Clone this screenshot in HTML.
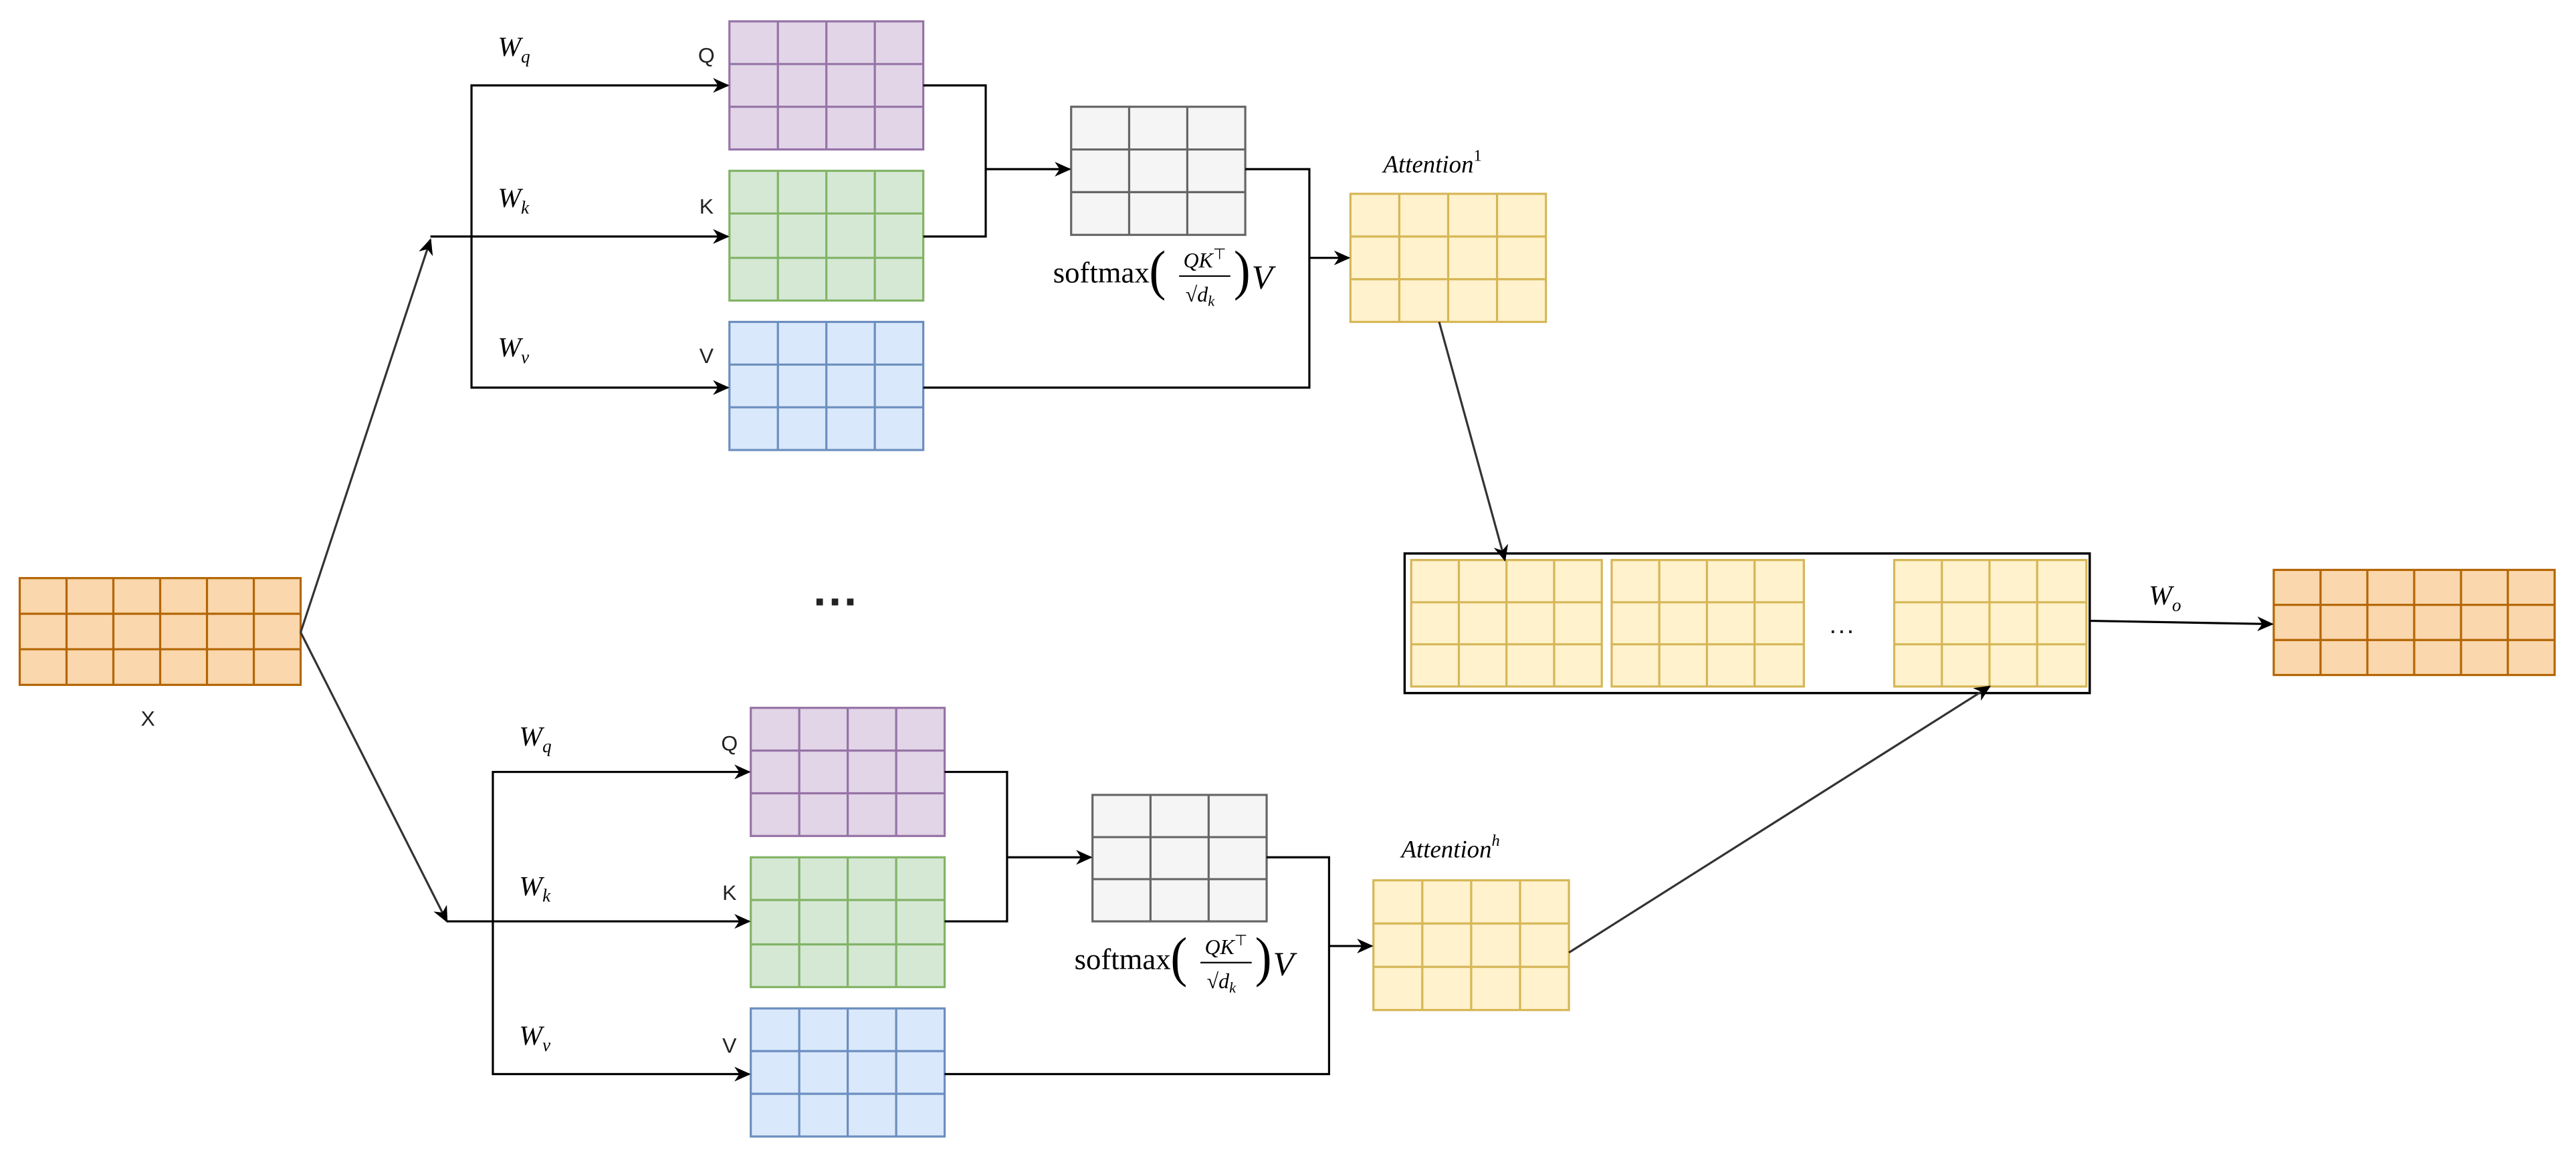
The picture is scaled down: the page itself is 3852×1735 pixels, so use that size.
<!DOCTYPE html>
<html><head><meta charset="utf-8"><style>html,body{margin:0;padding:0;background:#fff}svg{display:block}</style></head><body>
<svg width="3852" height="1735" viewBox="0 0 1568 706.3" preserveAspectRatio="none" xmlns="http://www.w3.org/2000/svg">
<defs>
<marker id="a" markerWidth="10" markerHeight="10" refX="9" refY="5" orient="auto" markerUnits="userSpaceOnUse"><path d="M0,0.5 L10,5 L0,9.5 L3,5 Z" fill="#000"/></marker>
</defs>
<rect width="1568" height="706.3" fill="#fff"/>
<g stroke-width="1.3">
<g fill="#fad7ac" stroke="#b46504"><rect x="12" y="352" width="171" height="65"/><path d="M40.5 352V417M69 352V417M97.5 352V417M126 352V417M154.5 352V417M12 373.7H183M12 395.3H183" fill="none"/></g>
<g fill="#e1d5e7" stroke="#9673a6"><rect x="444" y="13" width="118" height="78"/><path d="M473.5 13V91M503 13V91M532.5 13V91M444 39H562M444 65H562" fill="none"/></g>
<g fill="#d5e8d4" stroke="#82b366"><rect x="444" y="104" width="118" height="79"/><path d="M473.5 104V183M503 104V183M532.5 104V183M444 130H562M444 157H562" fill="none"/></g>
<g fill="#dae8fc" stroke="#6c8ebf"><rect x="444" y="196" width="118" height="78"/><path d="M473.5 196V274M503 196V274M532.5 196V274M444 222H562M444 248H562" fill="none"/></g>
<g fill="#f5f5f5" stroke="#666"><rect x="652" y="65" width="106" height="78"/><path d="M687.3 65V143M722.7 65V143M652 91H758M652 117H758" fill="none"/></g>
<g fill="#fff2cc" stroke="#d6b656"><rect x="822" y="118" width="119" height="78"/><path d="M851.75 118V196M881.5 118V196M911.25 118V196M822 144H941M822 170H941" fill="none"/></g>
<g fill="#e1d5e7" stroke="#9673a6"><rect x="457" y="431" width="118" height="78"/><path d="M486.5 431V509M516 431V509M545.5 431V509M457 457H575M457 483H575" fill="none"/></g>
<g fill="#d5e8d4" stroke="#82b366"><rect x="457" y="522" width="118" height="79"/><path d="M486.5 522V601M516 522V601M545.5 522V601M457 548H575M457 575H575" fill="none"/></g>
<g fill="#dae8fc" stroke="#6c8ebf"><rect x="457" y="614" width="118" height="78"/><path d="M486.5 614V692M516 614V692M545.5 614V692M457 640H575M457 666H575" fill="none"/></g>
<g fill="#f5f5f5" stroke="#666"><rect x="665" y="484" width="106" height="77"/><path d="M700.3 484V561M735.7 484V561M665 509.7H771M665 535.3H771" fill="none"/></g>
<g fill="#fff2cc" stroke="#d6b656"><rect x="836" y="536" width="119" height="79"/><path d="M865.75 536V615M895.5 536V615M925.25 536V615M836 562.3H955M836 588.7H955" fill="none"/></g>
<rect x="855" y="337" width="417" height="85" fill="#fff" stroke="#000" stroke-width="1.4"/>
<g fill="#fff2cc" stroke="#d6b656">
<rect x="859" y="341" width="116" height="77"/><path d="M888 341V418M917 341V418M946 341V418M859 366.7H975M859 392.3H975" fill="none"/>
<rect x="981" y="341" width="117" height="77"/><path d="M1010 341V418M1039 341V418M1068 341V418M981 366.7H1098M981 392.3H1098" fill="none"/>
<rect x="1153" y="341" width="117" height="77"/><path d="M1182 341V418M1211 341V418M1240 341V418M1153 366.7H1270M1153 392.3H1270" fill="none"/>
</g>
<g fill="#fad7ac" stroke="#b46504"><rect x="1384" y="347" width="171" height="64"/><path d="M1412.5 347V411M1441 347V411M1469.5 347V411M1498 347V411M1526.5 347V411M1384 368.3H1555M1384 389.7H1555" fill="none"/></g>
</g>
<g fill="none" stroke="#000" stroke-width="1.3">
<path d="M183 385L262 146" stroke="#333" marker-end="url(#a)"/>
<path d="M183 385L272 561" stroke="#333" marker-end="url(#a)"/>
<path d="M262 144H443" marker-end="url(#a)"/>
<path d="M287 144V52H443" marker-end="url(#a)"/>
<path d="M287 144V236H443" marker-end="url(#a)"/>
<path d="M562 52H600V144H562"/>
<path d="M600 103H651" marker-end="url(#a)"/>
<path d="M758 103H797V236H562"/>
<path d="M797 157H821" marker-end="url(#a)"/>
<path d="M876 196L916 341" stroke="#333" marker-end="url(#a)"/>
<path d="M272 561H456" marker-end="url(#a)"/>
<path d="M300 561V470H456" marker-end="url(#a)"/>
<path d="M300 561V654H456" marker-end="url(#a)"/>
<path d="M575 470H613V561H575"/>
<path d="M613 522H664" marker-end="url(#a)"/>
<path d="M771 522H809V654H575"/>
<path d="M809 576H835" marker-end="url(#a)"/>
<path d="M955 580L1211 418" stroke="#333" marker-end="url(#a)"/>
<path d="M1272 378L1383 380" marker-end="url(#a)"/>
</g>
<g font-family="Liberation Sans, sans-serif" font-size="13" fill="#222" text-anchor="middle">
<text x="90" y="442">X</text>
<text x="430" y="38">Q</text><text x="430" y="130">K</text><text x="430" y="221">V</text>
<text x="444" y="457">Q</text><text x="444" y="548">K</text><text x="444" y="641">V</text>
<text x="509" y="376" font-size="28" font-weight="bold">···</text>
<text x="1121" y="389" font-size="16">···</text>
</g>
<g font-family="Liberation Serif, serif" font-style="italic" font-size="17" fill="#000">
<text x="303" y="34">W<tspan font-size="11" dy="4">q</tspan></text>
<text x="303" y="126">W<tspan font-size="11" dy="4">k</tspan></text>
<text x="303" y="217">W<tspan font-size="11" dy="4">v</tspan></text>
<text x="316" y="454">W<tspan font-size="11" dy="4">q</tspan></text>
<text x="316" y="545">W<tspan font-size="11" dy="4">k</tspan></text>
<text x="316" y="636">W<tspan font-size="11" dy="4">v</tspan></text>
<text x="1308" y="368">W<tspan font-size="11" dy="4">o</tspan></text>
<text x="842" y="105" font-size="15">Attention<tspan font-size="10" dy="-7" font-style="normal">1</tspan></text>
<text x="853" y="522" font-size="15">Attention<tspan font-size="10" dy="-7">h</tspan></text>
</g>
<g font-family="Liberation Serif, serif" fill="#000">
<g transform="translate(641,172) scale(1.3)">
<text x="0" y="0" font-size="14">softmax</text>
<text x="50" y="3" font-size="26" transform="scale(0.9,1)">(</text>
<text x="61" y="-7" font-size="10" font-style="italic">QK<tspan font-size="7" dy="-4" font-style="normal">⊤</tspan></text>
<line x1="59" y1="-3" x2="83" y2="-3" stroke="#000" stroke-width="0.7"/>
<text x="62" y="9" font-size="10">√<tspan font-style="italic">d</tspan><tspan font-size="7" dy="2" font-style="italic">k</tspan></text>
<text x="94" y="3" font-size="26" transform="scale(0.9,1)">)</text>
<text x="93" y="3" font-size="16" font-style="italic">V</text>
</g>
<g transform="translate(654,590) scale(1.3)">
<text x="0" y="0" font-size="14">softmax</text>
<text x="50" y="3" font-size="26" transform="scale(0.9,1)">(</text>
<text x="61" y="-7" font-size="10" font-style="italic">QK<tspan font-size="7" dy="-4" font-style="normal">⊤</tspan></text>
<line x1="59" y1="-3" x2="83" y2="-3" stroke="#000" stroke-width="0.7"/>
<text x="62" y="9" font-size="10">√<tspan font-style="italic">d</tspan><tspan font-size="7" dy="2" font-style="italic">k</tspan></text>
<text x="94" y="3" font-size="26" transform="scale(0.9,1)">)</text>
<text x="93" y="3" font-size="16" font-style="italic">V</text>
</g>
</g>
</svg>
</body></html>
